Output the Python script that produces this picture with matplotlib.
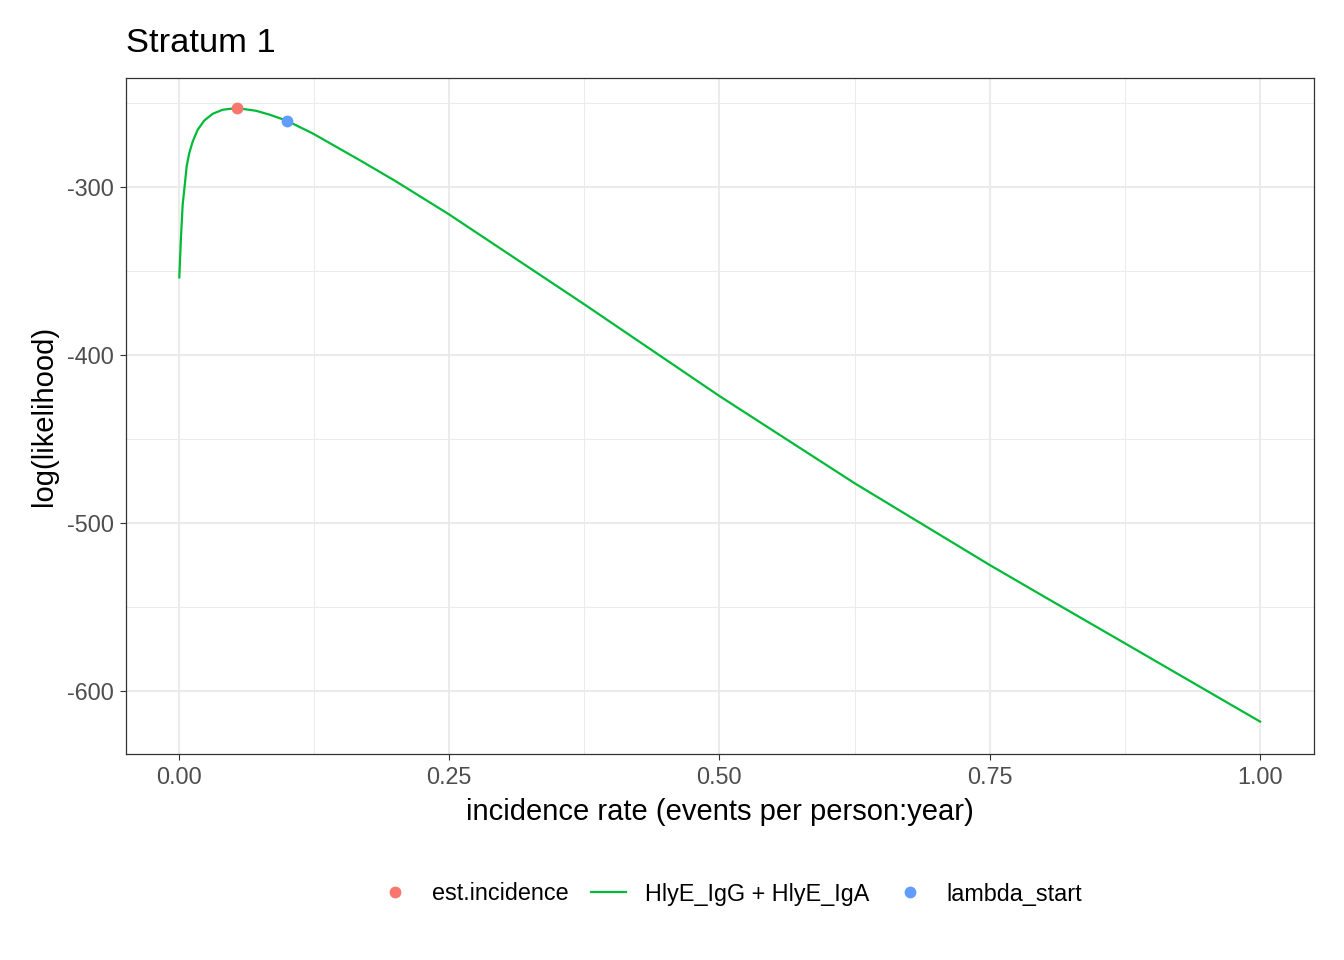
import matplotlib
matplotlib.use("Agg")
import matplotlib.pyplot as plt
from matplotlib.lines import Line2D
from matplotlib.ticker import MultipleLocator

plt.rcParams['font.family'] = ['Liberation Sans', 'DejaVu Sans']

# Log-likelihood curve (incidence rate vs log likelihood)
lambda_vals = [0.0005, 0.002, 0.0036, 0.0051, 0.0073, 0.0097, 0.0129, 0.0175, 0.0236,
               0.0314, 0.0406, 0.0536, 0.0714, 0.0844, 0.0998, 0.1236, 0.1668, 0.2,
               0.25, 0.375, 0.5, 0.625, 0.75, 0.8, 0.875, 1.0]
loglik_vals = [-353.8, -330.4, -310.5, -301.6, -287.7, -279.8, -272.9, -265.9, -260.4,
               -256.4, -254.0, -253.0, -254.6, -257.0, -260.5, -268.0, -283.8, -296.3,
               -316.3, -369.8, -424.4, -476.3, -525.0, -543.7, -571.6, -618.2]

est_incidence = (0.0536, -253.0)
lambda_start = (0.1, -260.6)

curve_label = "HlyE_IgG + HlyE_IgA"
xticks = [0.0, 0.25, 0.5, 0.75, 1.0]
xticklabels = ["0.00", "0.25", "0.50", "0.75", "1.00"]
yticks = [-600, -500, -400, -300]
yticklabels = ["-600", "-500", "-400", "-300"]

RED = "#F8766D"
GREEN = "#00BA38"
BLUE = "#619CFF"

W, H = 1344, 960
fig = plt.figure(figsize=(W / 100, H / 100), dpi=100)
left, right, top, bottom = 126 / W, 1314 / W, 78 / H, 754 / H
ax = fig.add_axes([left, 1 - bottom, right - left, bottom - top])

ax.set_xlim(-0.0488, 1.0499)
ax.set_ylim(-637.5, -235.1)

# grid
ax.set_axisbelow(True)
ax.xaxis.set_minor_locator(MultipleLocator(0.125))
ax.yaxis.set_minor_locator(MultipleLocator(50))
ax.grid(which='major', color='#EBEBEB', linewidth=1.5)
ax.grid(which='minor', color='#EBEBEB', linewidth=0.75)
ax.tick_params(which='minor', length=0)

ax.plot(lambda_vals, loglik_vals, color=GREEN, linewidth=1.6, zorder=3,
        solid_joinstyle='round')
ax.plot([est_incidence[0]], [est_incidence[1]], 'o', color=RED, markersize=8.5,
        markeredgewidth=0, zorder=4)
ax.plot([lambda_start[0]], [lambda_start[1]], 'o', color=BLUE, markersize=8.5,
        markeredgewidth=0, zorder=4)

ax.set_xticks(xticks)
ax.set_xticklabels(xticklabels)
ax.set_yticks(yticks)
ax.set_yticklabels(yticklabels)
ax.tick_params(which='major', length=4, width=0.8, color='#333333',
               labelsize=16.8, labelcolor='#4D4D4D', pad=5)

for s in ax.spines.values():
    s.set_color('#333333')
    s.set_linewidth(0.9)

ax.set_xlabel("incidence rate (events per person:year)", fontsize=21, color='black', labelpad=6)
ax.set_ylabel("log(likelihood)", fontsize=21, color='black', labelpad=6)
fig.text(126 / W, 1 - 43 / H, "Stratum 1", fontsize=24.8, ha='left', va='center')

handles = [
    Line2D([], [], marker='o', linestyle='none', color=RED, markersize=8.5, markeredgewidth=0),
    Line2D([], [], color=GREEN, linewidth=1.6),
    Line2D([], [], marker='o', linestyle='none', color=BLUE, markersize=8.5, markeredgewidth=0),
]
labels = ["est.incidence", curve_label, "lambda_start"]
fig.legend(handles, labels, loc='center', bbox_to_anchor=(730 / W, 1 - 894 / H),
           ncol=3, frameon=False, fontsize=16.8, handlelength=1.5, handletextpad=0.8,
           columnspacing=1.0)

fig.savefig("out.png", dpi=100)
